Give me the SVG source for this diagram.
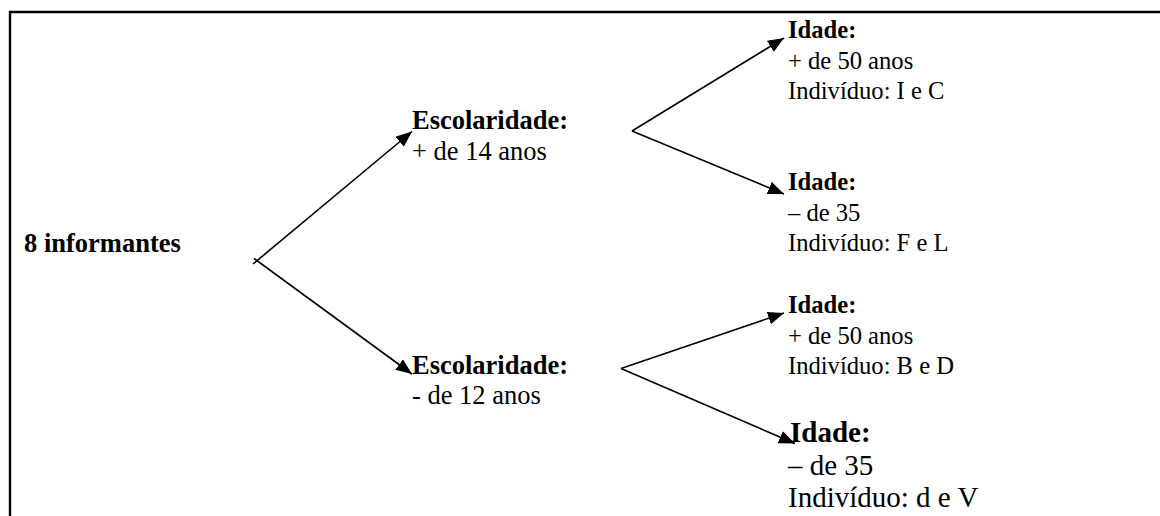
<svg xmlns="http://www.w3.org/2000/svg" width="1160" height="516" viewBox="0 0 1160 516">
<style>
text{font-family:"Liberation Serif","Times New Roman",serif;fill:#000}
.b{font-weight:bold}
.l{font-size:26.5px}
.r{font-size:24.6px}
.big{font-size:29px}
.c{stroke:#000;stroke-width:1.6;fill:none}
</style>
<defs>
<marker id="ah" markerUnits="userSpaceOnUse" markerWidth="18" markerHeight="14" refX="16" refY="6.5" orient="auto">
<path d="M0,0 L16,6.5 L0,13 z" fill="#000"/>
</marker>
</defs>
<rect width="1160" height="516" fill="#fff"/>
<g id="frame">
<line x1="9" y1="12" x2="1160" y2="12" stroke="#000" stroke-width="2.4"/>
<line x1="10" y1="11" x2="10" y2="516" stroke="#000" stroke-width="2.4"/>
</g>
<g id="connectors">
<line class="c" x1="253" y1="264" x2="412" y2="131.5" marker-end="url(#ah)"/>
<line class="c" x1="254" y1="258.5" x2="412" y2="374" marker-end="url(#ah)"/>
<line class="c" x1="632" y1="131" x2="784" y2="38" marker-end="url(#ah)"/>
<line class="c" x1="632" y1="131" x2="784" y2="194" marker-end="url(#ah)"/>
<line class="c" x1="621" y1="368.5" x2="784" y2="313" marker-end="url(#ah)"/>
<line class="c" x1="621" y1="368.5" x2="795" y2="443.5" marker-end="url(#ah)"/>
</g>
<g id="n-root">
<text class="b l" x="24" y="252">8 informantes</text>
</g>
<g id="n-esc-mais">
<text class="l" x="412" y="129"><tspan class="b">Escolaridade:</tspan><tspan x="412" y="160">+ de 14 anos</tspan></text>
</g>
<g id="n-esc-menos">
<text class="l" x="412" y="374"><tspan class="b">Escolaridade:</tspan><tspan x="412" y="404">- de 12 anos</tspan></text>
</g>
<g id="n-idade-IC">
<text class="r" x="788" y="38"><tspan class="b">Idade:</tspan><tspan x="788" y="68.5">+ de 50 anos</tspan><tspan x="788" y="99">Indivíduo: I e C</tspan></text>
</g>
<g id="n-idade-FL">
<text class="r" x="788" y="190"><tspan class="b">Idade:</tspan><tspan x="788" y="220.5">– de 35</tspan><tspan x="788" y="251">Indivíduo: F e L</tspan></text>
</g>
<g id="n-idade-BD">
<text class="r" x="788" y="313"><tspan class="b">Idade:</tspan><tspan x="788" y="343.5">+ de 50 anos</tspan><tspan x="788" y="374">Indivíduo: B e D</tspan></text>
</g>
<g id="n-idade-dV">
<text class="big" x="790" y="442"><tspan class="b">Idade:</tspan><tspan x="788" y="475">– de 35</tspan><tspan x="788" y="507">Indivíduo: d e V</tspan></text>
</g>
</svg>
